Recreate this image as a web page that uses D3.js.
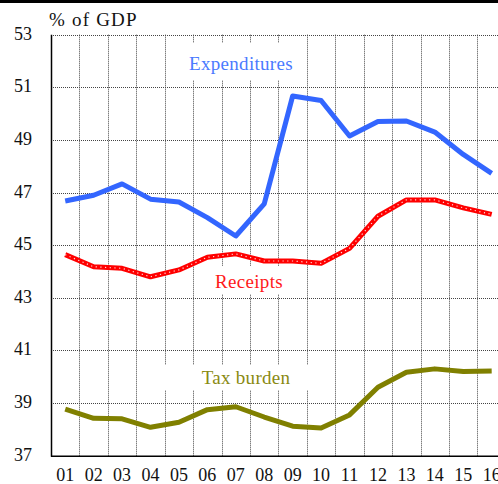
<!DOCTYPE html>
<html>
<head>
<meta charset="utf-8">
<script src="https://cdn.jsdelivr.net/npm/d3@7"></script>
<style>
  html, body { margin: 0; padding: 0; background: #fff; }
  svg { display: block; }
  text { font-family: "Liberation Serif", "Times New Roman", serif; }
</style>
</head>
<body>
<svg id="chart" width="498" height="484"></svg>
<script>
// Fiscal aggregates, % of GDP
const years = ["01","02","03","04","05","06","07","08","09","10","11","12","13","14","15","16"];
const expenditures = [46.68, 46.9, 47.33, 46.75, 46.64, 46.05, 45.35, 46.57, 50.67, 50.5, 49.15, 49.7, 49.72, 49.3, 48.45, 47.73];
const receipts     = [44.64, 44.18, 44.12, 43.8, 44.06, 44.54, 44.67, 44.4, 44.4, 44.31, 44.88, 46.1, 46.72, 46.72, 46.42, 46.17];
const taxBurden    = [38.77, 38.42, 38.4, 38.08, 38.27, 38.75, 38.86, 38.47, 38.12, 38.05, 38.55, 39.6, 40.17, 40.3, 40.2, 40.22];
const yTicks = [37, 39, 41, 43, 45, 47, 49, 51, 53];

const svg = d3.select("#chart");
const W = 498, H = 484;
const plotLeft = 51, plotTop = 34.7, plotBottom = 455.7, plotRight = 505.9;

const x = d3.scaleBand().domain(years).range([plotLeft, plotRight]).padding(0);
const y = d3.scaleLinear().domain([37, 53]).range([plotBottom, plotTop]);
const cx = d => x(d) + x.bandwidth() / 2;

// top rule
svg.append("rect").attr("x", 0).attr("y", 0).attr("width", W).attr("height", 3).attr("fill", "#000");

// grid
const grid = svg.append("g");
grid.selectAll("line.h").data(yTicks.filter(v => v > 37)).join("line")
  .attr("x1", plotLeft).attr("x2", W)
  .attr("y1", d => Math.round(y(d)) + 0.5).attr("y2", d => Math.round(y(d)) + 0.5)
  .attr("stroke", "#444").attr("stroke-width", 1).attr("stroke-dasharray", "1,1");
grid.selectAll("line.v").data(years.slice(1)).join("line")
  .attr("x1", d => Math.round(x(d)) + 0.5).attr("x2", d => Math.round(x(d)) + 0.5)
  .attr("y1", plotTop).attr("y2", plotBottom)
  .attr("stroke", "#444").attr("stroke-width", 1).attr("stroke-dasharray", "1,1");

// label backgrounds break the grid
const boxes = [[170, 43, 130, 37], [200, 266, 100, 28], [160, 365, 150, 25]];
svg.selectAll("rect.bg").data(boxes).join("rect")
  .attr("x", d => d[0]).attr("y", d => d[1]).attr("width", d => d[2]).attr("height", d => d[3])
  .attr("fill", "#fff");

// axes lines
svg.append("line").attr("x1", plotLeft + 0.5).attr("x2", plotLeft + 0.5).attr("y1", plotTop).attr("y2", plotBottom + 1)
  .attr("stroke", "#000").attr("stroke-width", 1.5);
svg.append("line").attr("x1", plotLeft).attr("x2", W).attr("y1", plotBottom + 0.5).attr("y2", plotBottom + 0.5)
  .attr("stroke", "#000").attr("stroke-width", 1.5);

// y tick labels
svg.selectAll("text.yt").data(yTicks).join("text")
  .attr("x", 32).attr("y", d => y(d) - 1)
  .attr("text-anchor", "end").attr("dominant-baseline", "central")
  .attr("font-size", 18).attr("fill", "#111")
  .text(d => d);

// x tick labels (the last one runs off the right edge)
svg.selectAll("text.xt").data(years).join("text")
  .attr("x", d => cx(d)).attr("y", 481)
  .attr("text-anchor", "middle")
  .attr("font-size", 18).attr("fill", "#111")
  .text(d => d);

// unit
svg.append("text").attr("x", 49).attr("y", 26)
  .attr("font-size", 19).attr("letter-spacing", 1.2).attr("fill", "#111")
  .text("% of GDP");

const line = d3.line().x((d, i) => cx(years[i])).y(d => y(d)).curve(d3.curveLinear);

svg.append("path").datum(expenditures).attr("d", line)
  .attr("fill", "none").attr("stroke", "#3366ff").attr("stroke-width", 5)
  .attr("stroke-linejoin", "round");

svg.append("path").datum(receipts).attr("d", line)
  .attr("fill", "none").attr("stroke", "#ff0000").attr("stroke-width", 5)
  .attr("stroke-linejoin", "round");
svg.append("path").datum(receipts).attr("d", line)
  .attr("fill", "none").attr("stroke", "#fff").attr("stroke-width", 1.2)
  .attr("stroke-dasharray", "1.2,3.5").attr("opacity", 0.85);

svg.append("path").datum(taxBurden).attr("d", line)
  .attr("fill", "none").attr("stroke", "#808000").attr("stroke-width", 5)
  .attr("stroke-linejoin", "round");

// series labels
const labels = [
  { t: "Expenditures", x: 241, y: 70, c: "#4a7aff" },
  { t: "Receipts", x: 249, y: 288, c: "#ff1a1a" },
  { t: "Tax burden", x: 246, y: 384, c: "#8a8a12" }
];
svg.selectAll("text.sl").data(labels).join("text")
  .attr("x", d => d.x).attr("y", d => d.y)
  .attr("text-anchor", "middle").attr("font-size", 19).attr("letter-spacing", 0.3)
  .attr("fill", d => d.c).text(d => d.t);
</script>
</body>
</html>
